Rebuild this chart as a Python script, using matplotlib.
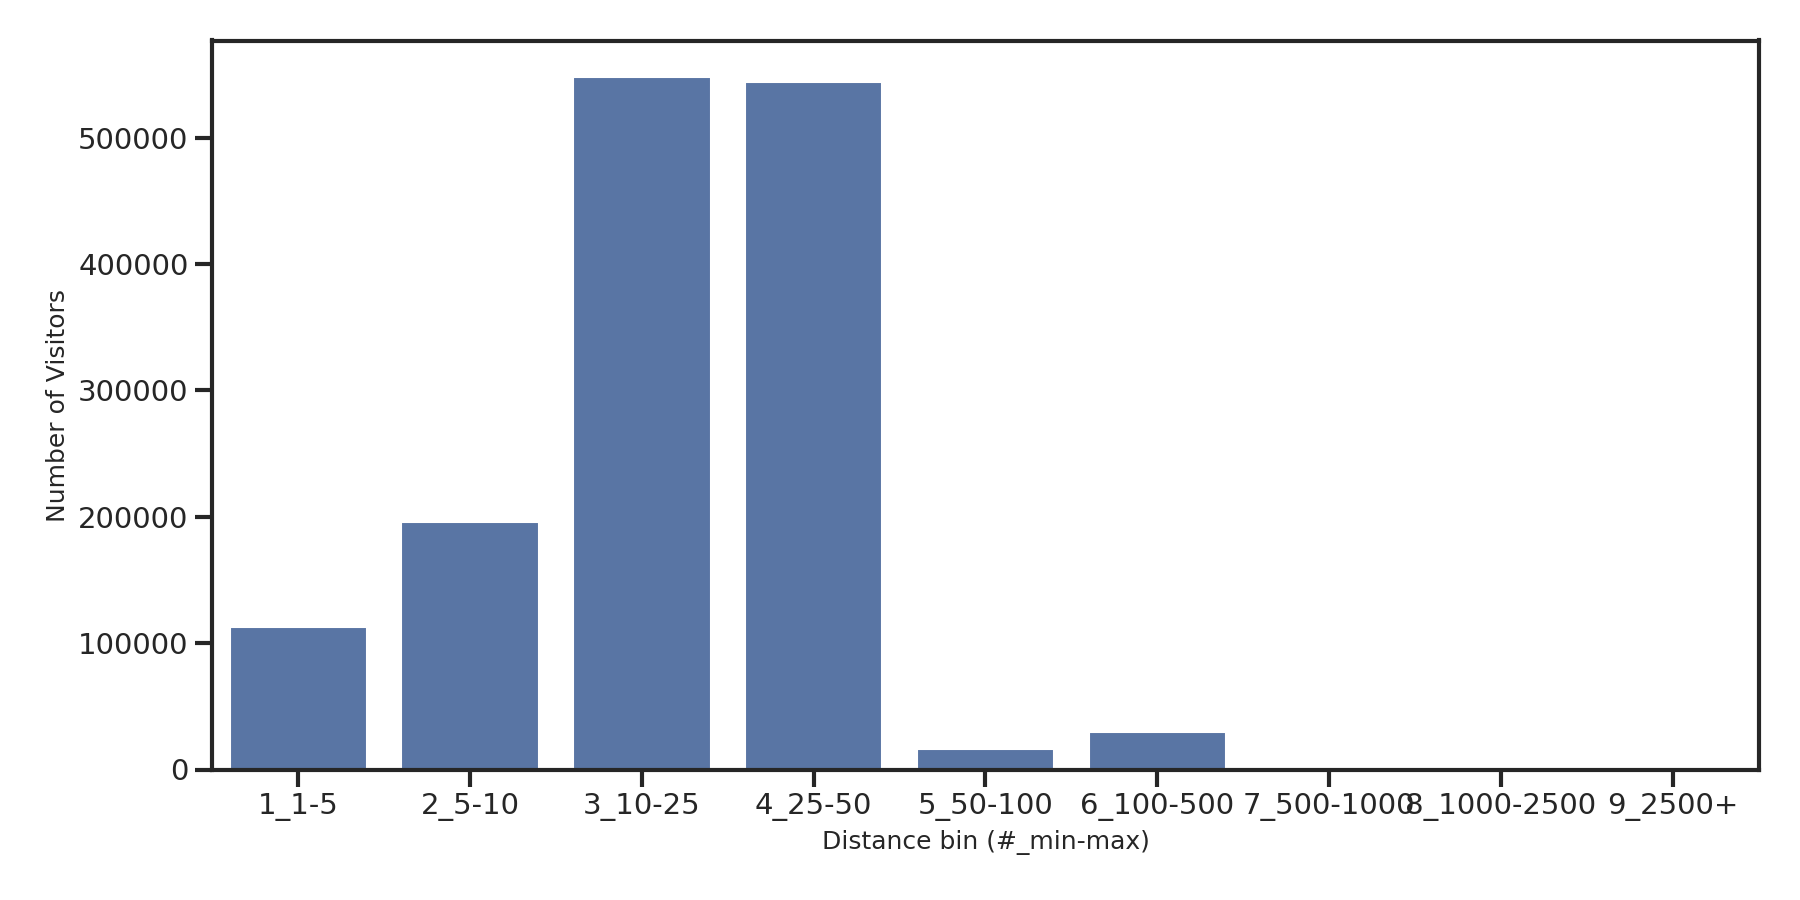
import matplotlib
matplotlib.use('Agg')
import matplotlib.pyplot as plt
import seaborn as sns

# distance bins and visitor counts
bins = ['1_1-5', '2_5-10', '3_10-25', '4_25-50', '5_50-100',
        '6_100-500', '7_500-1000', '8_1000-2500', '9_2500+']
visitors = [112700, 195500, 548000, 544500, 16400, 30000, 600, 200, 50]

sns.set_theme(style='ticks')
plt.rcParams['font.family'] = ['DejaVu Sans']

fig, ax = plt.subplots(figsize=(12, 6), dpi=150)
sns.barplot(x=bins, y=visitors, color='#4c72b0', ax=ax)

ax.set_xlabel('Distance bin (#_min-max)', fontsize=12, labelpad=4)
ax.set_ylabel('Number of Visitors', fontsize=12)
ax.tick_params(axis='both', labelsize=14, length=8, width=2)
for s in ax.spines.values():
    s.set_linewidth(2)
ax.set_ylim(0, 577000)

fig.subplots_adjust(left=0.118, right=0.977, top=0.955, bottom=0.145)
fig.savefig('out.png', dpi=150)
